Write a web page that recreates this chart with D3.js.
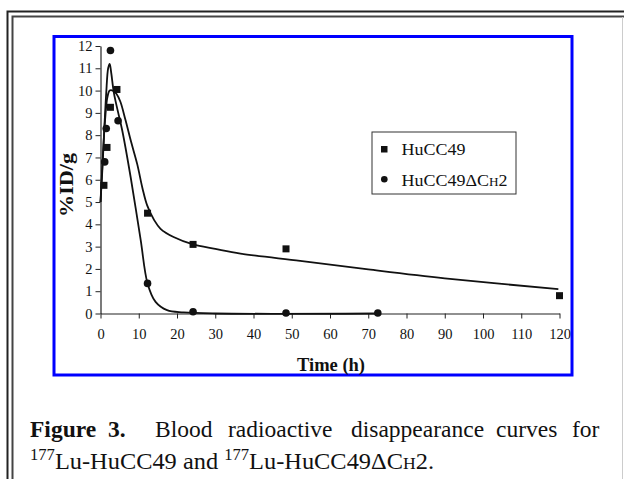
<!DOCTYPE html>
<html>
<head>
<meta charset="utf-8">
<script src="https://cdn.jsdelivr.net/npm/d3@7"></script>
<style>
  body { margin: 0; background: #fff; }
  svg { display: block; }
  text { font-family: "Liberation Serif", "Times New Roman", serif; fill: #111; }
</style>
</head>
<body>
<svg id="chart" width="624" height="479"></svg>
<script>
// measured points, HuCC49 (squares)
const sqTime = [0.9, 1.7, 2.6, 4.3, 12.3, 24.2, 48.5, 120];
const sqValue = [5.75, 7.45, 9.25, 10.05, 4.5, 3.1, 2.9, 0.8];
// measured points, HuCC49ΔCH2 (circles)
const ciTime = [1.1, 1.5, 2.6, 4.6, 12.3, 24.2, 48.5, 72.5];
const ciValue = [6.8, 8.3, 11.8, 8.65, 1.35, 0.08, 0.02, 0.02];
// fitted curves
const fitSqTime = [0, 0.6, 1.2, 1.8, 2.4, 3.2, 4.2, 5.2, 6.5, 8, 9.6, 11, 12.2, 14, 15.7, 19.1, 24.2, 30, 36.6, 52.2, 70, 90, 119.7];
const fitSqValue = [5.0, 7.0, 8.7, 9.7, 10.0, 10.0, 9.85, 9.5, 8.7, 7.7, 6.7, 5.6, 4.85, 4.2, 3.8, 3.43, 3.1, 2.9, 2.69, 2.36, 1.98, 1.58, 1.09];
const fitCiTime = [0, 0.5, 1.0, 1.5, 2.0, 2.4, 2.8, 3.5, 4.5, 5.7, 7.9, 10.5, 12.3, 14.4, 17.4, 21.7, 30, 72];
const fitCiValue = [5.0, 6.5, 8.3, 9.9, 11.0, 11.2, 10.8, 9.9, 9.1, 8.2, 6.1, 3.3, 1.35, 0.52, 0.15, 0.05, 0.0, 0.0];
const xTicks = [0, 10, 20, 30, 40, 50, 60, 70, 80, 90, 100, 110, 120];
const yTicks = [0, 1, 2, 3, 4, 5, 6, 7, 8, 9, 10, 11, 12];

const svg = d3.select('#chart');

// page frame (double rule)
svg.append('path').attr('d', 'M7.5,479 V11.5 H624').attr('fill', 'none').attr('stroke', '#222').attr('stroke-width', 2);
svg.append('path').attr('d', 'M12.5,479 V16.5 H624').attr('fill', 'none').attr('stroke', '#444').attr('stroke-width', 2);
svg.append('line').attr('x1', 622.5).attr('x2', 622.5).attr('y1', 17).attr('y2', 479)
    .attr('stroke', '#ccc').attr('stroke-width', 1);

// blue chart box
svg.append('rect').attr('x', 54).attr('y', 36.5).attr('width', 518).attr('height', 338.5)
    .attr('fill', 'none').attr('stroke', '#0000ff').attr('stroke-width', 3);

const x = d3.scaleLinear().domain([0, 120]).range([100.5, 559.5]);
const y = d3.scaleLinear().domain([0, 12]).range([313.5, 46]);

// axes
const xAxis = svg.append('g').attr('transform', `translate(0,${y(0)})`)
    .call(d3.axisBottom(x).tickValues(xTicks).tickSize(5).tickPadding(10).tickSizeOuter(0));
const yAxis = svg.append('g').attr('transform', `translate(${x(0)},0)`)
    .call(d3.axisLeft(y).tickValues(yTicks).tickSize(5).tickPadding(3).tickSizeOuter(0));
[xAxis, yAxis].forEach(a => {
    a.attr('font-family', null);
    a.select('.domain').attr('stroke', '#222').attr('stroke-width', 1.2);
    a.selectAll('.tick line').attr('stroke', '#222').attr('stroke-width', 1);
    a.selectAll('.tick text').attr('font-size', 14.5).attr('fill', '#111');
});

// curves
const line = d3.line().x(d => x(d[0])).y(d => y(d[1])).curve(d3.curveCatmullRom.alpha(0.5));
svg.append('path').datum(d3.zip(fitSqTime, fitSqValue)).attr('d', line)
    .attr('fill', 'none').attr('stroke', '#111').attr('stroke-width', 1.8);
svg.append('path').datum(d3.zip(fitCiTime, fitCiValue)).attr('d', line)
    .attr('fill', 'none').attr('stroke', '#111').attr('stroke-width', 1.8);

// markers
const sq = 7;
svg.selectAll('rect.sq').data(d3.zip(sqTime, sqValue)).enter().append('rect')
    .attr('class', 'sq')
    .attr('x', d => x(d[0]) - sq / 2).attr('y', d => y(d[1]) - sq / 2)
    .attr('width', sq).attr('height', sq).attr('fill', '#111');
svg.selectAll('circle.ci').data(d3.zip(ciTime, ciValue)).enter().append('circle')
    .attr('class', 'ci')
    .attr('cx', d => x(d[0])).attr('cy', d => y(d[1])).attr('r', 3.8).attr('fill', '#111');

// axis titles
svg.append('text').attr('x', 297).attr('y', 371)
    .attr('font-weight', 'bold').attr('font-size', 18)
    .attr('textLength', 68).attr('lengthAdjust', 'spacingAndGlyphs').text('Time (h)');
svg.append('text').attr('transform', 'translate(73,217) rotate(-90)')
    .attr('font-weight', 'bold').attr('font-size', 19)
    .attr('textLength', 64).attr('lengthAdjust', 'spacingAndGlyphs').text('%ID/g');

// legend
const legend = svg.append('g');
legend.append('rect').attr('x', 372).attr('y', 132).attr('width', 144).attr('height', 62)
    .attr('fill', '#fff').attr('stroke', '#333').attr('stroke-width', 1);
legend.append('rect').attr('x', 381).attr('y', 146).attr('width', 6.5).attr('height', 6.5).attr('fill', '#111');
legend.append('circle').attr('cx', 384.3).attr('cy', 179.3).attr('r', 3.3).attr('fill', '#111');
legend.append('text').attr('x', 401.5).attr('y', 155).attr('font-size', 17)
    .attr('textLength', 64).attr('lengthAdjust', 'spacingAndGlyphs').text('HuCC49');
const l2 = legend.append('text').attr('x', 401.5).attr('y', 186).attr('font-size', 17)
    .attr('textLength', 106).attr('lengthAdjust', 'spacingAndGlyphs');
l2.append('tspan').text('HuCC49\u0394C');
l2.append('tspan').attr('font-size', 12.5).text('H');
l2.append('tspan').text('2');

// caption, line 1 justified word by word
const capSize = 23.5;
const capWords = ['Figure', '3.', 'Blood', 'radioactive', 'disappearance', 'curves', 'for'];
const capLeft = [30, 108, 155, 228, 351, 496, 572];
const cap = svg.append('g').attr('font-size', capSize);
capWords.forEach((w, i) => {
    cap.append('text').attr('x', capLeft[i]).attr('y', 437)
        .attr('font-weight', i < 2 ? 'bold' : null)
        .text(w);
});

const c2 = cap.append('text').attr('x', 30).attr('y', 469)
    .attr('textLength', 404).attr('lengthAdjust', 'spacingAndGlyphs');
c2.append('tspan').attr('font-size', 16).attr('dy', -9).text('177');
c2.append('tspan').attr('dy', 9).text('Lu-HuCC49 and ');
c2.append('tspan').attr('font-size', 16).attr('dy', -9).text('177');
c2.append('tspan').attr('dy', 9).text('Lu-HuCC49\u0394C');
c2.append('tspan').attr('font-size', 17).text('H');
c2.append('tspan').text('2.');
</script>
</body>
</html>
